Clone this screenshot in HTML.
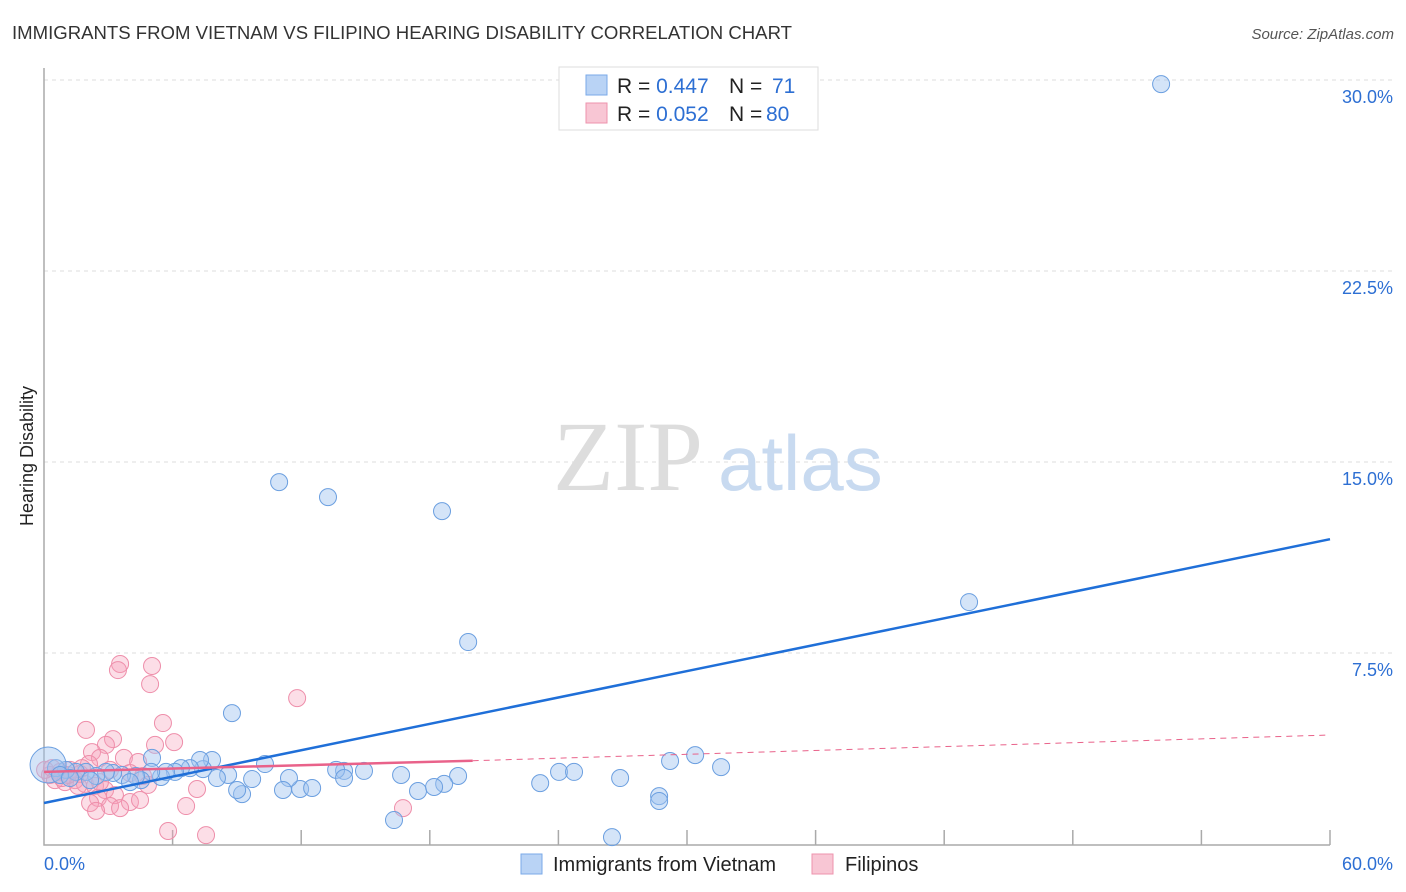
<!DOCTYPE html>
<html><head><meta charset="utf-8"><style>
body{margin:0;background:#fff;font-family:"Liberation Sans",sans-serif}
svg{display:block}
</style></head><body>
<svg id="chart" width="1406" height="892">
<text x="12" y="39" font-size="18" fill="#333" textLength="780" lengthAdjust="spacingAndGlyphs">IMMIGRANTS FROM VIETNAM VS FILIPINO HEARING DISABILITY CORRELATION CHART</text>
<text x="1394" y="39" font-size="15" fill="#555" font-style="italic" text-anchor="end">Source: ZipAtlas.com</text>
<text transform="translate(33,456) rotate(-90)" font-size="18" fill="#222" text-anchor="middle">Hearing Disability</text>
<g id="grid"></g>
<text x="553" y="490" font-size="100" fill="#ddd" font-family="Liberation Serif,serif">ZIP</text>
<text x="718" y="490" font-size="78" fill="#c8daf0">atlas</text>
<g id="marks"></g>
<g>
<rect x="559" y="67" width="259" height="63" fill="#fff" stroke="#ddd"/>
<rect x="586" y="75" width="21" height="20" fill="#b9d3f5" stroke="#7aaae8"/>
<rect x="586" y="103" width="21" height="20" fill="#f8c6d4" stroke="#ee93ad"/>
<text x="617" y="93" font-size="21" fill="#222">R = <tspan fill="#2d6fd3">0.447</tspan><tspan x="729">N = </tspan><tspan x="772" fill="#2d6fd3">71</tspan></text>
<text x="617" y="121" font-size="21" fill="#222">R = <tspan fill="#2d6fd3">0.052</tspan><tspan x="729">N = </tspan><tspan x="766" fill="#2d6fd3">80</tspan></text>
</g>
<g>
<rect x="521" y="854" width="21" height="20" fill="#b9d3f5" stroke="#7aaae8"/>
<text x="553" y="871" font-size="20" fill="#222">Immigrants from Vietnam</text>
<rect x="812" y="854" width="21" height="20" fill="#f8c6d4" stroke="#ee93ad"/>
<text x="845" y="871" font-size="20" fill="#222">Filipinos</text>
</g>
</svg>
<script>
const yTicks=[7.5,15,22.5,30];
const yTickLabels=["7.5%","15.0%","22.5%","30.0%"];
const xTicks=[0,6,12,18,24,30,36,42,48,54,60];
const xEndLabels=["0.0%","60.0%"];
const vietX=[52.12,10.97,13.25,18.57,43.16,19.79,8.77,30.38,29.21,31.59,24.03,24.73,26.88,23.15,28.70,28.70,26.50,16.33,19.32,18.67,17.45,18.20,16.66,14.93,14.00,13.63,14.00,11.95,12.51,11.43,11.15,10.31,9.71,9.24,9.01,8.59,8.07,7.84,7.42,7.28,6.81,6.39,6.11,5.46,5.69,5.04,5.00,4.53,4.29,3.64,3.22,2.89,2.43,1.96,1.49,1.03,0.56,0.19,0.75,1.21,2.15,4.01];
const vietY=[29.84,14.21,13.62,13.07,9.50,7.93,5.14,3.49,3.26,3.02,2.83,2.83,2.59,2.39,1.88,1.69,0.27,0.94,2.67,2.36,2.08,2.24,2.71,2.87,2.87,2.91,2.59,2.16,2.20,2.59,2.12,3.14,2.55,1.96,2.12,2.71,2.59,3.30,2.94,3.30,2.98,2.98,2.83,2.63,2.83,3.38,2.83,2.51,2.67,2.71,2.79,2.83,2.67,2.83,2.83,2.91,2.98,3.10,2.71,2.59,2.51,2.43];
const filX=[3.55,3.45,5.04,4.95,11.81,5.55,1.96,3.22,6.07,5.18,2.89,2.24,3.73,2.61,4.39,2.10,3.08,4.01,4.62,1.68,1.21,0.75,0.28,0.51,0.98,1.45,1.91,2.38,2.85,3.31,2.52,4.01,2.15,3.08,3.55,2.43,6.63,7.14,16.75,5.79,7.56,4.48,1.59,0.84,2.61,4.85,0.05,0.37,1.12,1.77];
const filY=[7.07,6.83,6.99,6.28,5.73,4.75,4.48,4.12,4.00,3.89,3.89,3.61,3.38,3.38,3.22,3.14,2.91,2.79,2.67,2.75,2.91,2.83,2.71,2.51,2.43,2.51,2.36,2.28,2.12,1.92,1.81,1.65,1.61,1.49,1.41,1.30,1.49,2.16,1.41,0.51,0.35,1.73,2.28,2.59,2.43,2.32,2.91,2.98,2.71,2.98];
const vietTrend=[0,1.61,60,11.97];
const filTrend=[0,2.83,20,3.27,60,4.28];
const NS="http://www.w3.org/2000/svg";
const X=v=>44+v*(1286/60), Y=v=>844-v*(191/7.5);
function mk(tag,attrs,parent){const e=document.createElementNS(NS,tag);for(const k in attrs)e.setAttribute(k,attrs[k]);parent.appendChild(e);return e;}
const grid=document.getElementById('grid'), marks=document.getElementById('marks');
yTicks.forEach((t,i)=>{
 const l=mk('line',{x1:44,x2:1393,y1:Y(t),y2:Y(t),stroke:'#ddd','stroke-dasharray':'4,4'},grid);
 
 
 const tx=mk('text',{x:1393,y:Y(t)+23,'font-size':18,fill:'#2d6fd3','text-anchor':'end'},grid);
 tx.textContent=yTickLabels[i];
 
 
});
const ax=mk('path',{d:'M44 68 V845 H1330',fill:'none',stroke:'#aaa','stroke-width':1.5},grid);


xTicks.slice(1).forEach(t=>{
 const l=mk('line',{x1:X(t),x2:X(t),y1:830,y2:845,stroke:'#aaa','stroke-width':1.5},grid);
 
 
});
const xl0=mk('text',{x:44,y:870,'font-size':18,fill:'#2d6fd3'},grid);xl0.textContent=xEndLabels[0];


const xl1=mk('text',{x:1393,y:870,'font-size':18,fill:'#2d6fd3','text-anchor':'end'},grid);xl1.textContent=xEndLabels[1];


filX.forEach((x,i)=>{
 const c=mk('circle',{cx:X(x),cy:Y(filY[i]),r:8.5,fill:'rgba(245,160,185,0.35)',stroke:'#ee8eaa','stroke-width':1},marks);
 
 
});
vietX.forEach((x,i)=>{
 const c=mk('circle',{cx:X(x),cy:Y(vietY[i]),r:(i==57?18:8.5),fill:'rgba(160,195,240,0.45)',stroke:'#6b9fe0','stroke-width':1},marks);
 
 
});
const vt=mk('line',{x1:X(vietTrend[0]),y1:Y(vietTrend[1]),x2:X(vietTrend[2]),y2:Y(vietTrend[3]),stroke:'#1f6fd8','stroke-width':2.5},marks);


const ft=mk('line',{x1:X(filTrend[0]),y1:Y(filTrend[1]),x2:X(filTrend[2]),y2:Y(filTrend[3]),stroke:'#e9628a','stroke-width':2.5},marks);


const fd=mk('line',{x1:X(filTrend[2]),y1:Y(filTrend[3]),x2:X(filTrend[4]),y2:Y(filTrend[5]),stroke:'#e9628a','stroke-width':1,'stroke-dasharray':'6,5'},marks);


</script>
</body></html>
